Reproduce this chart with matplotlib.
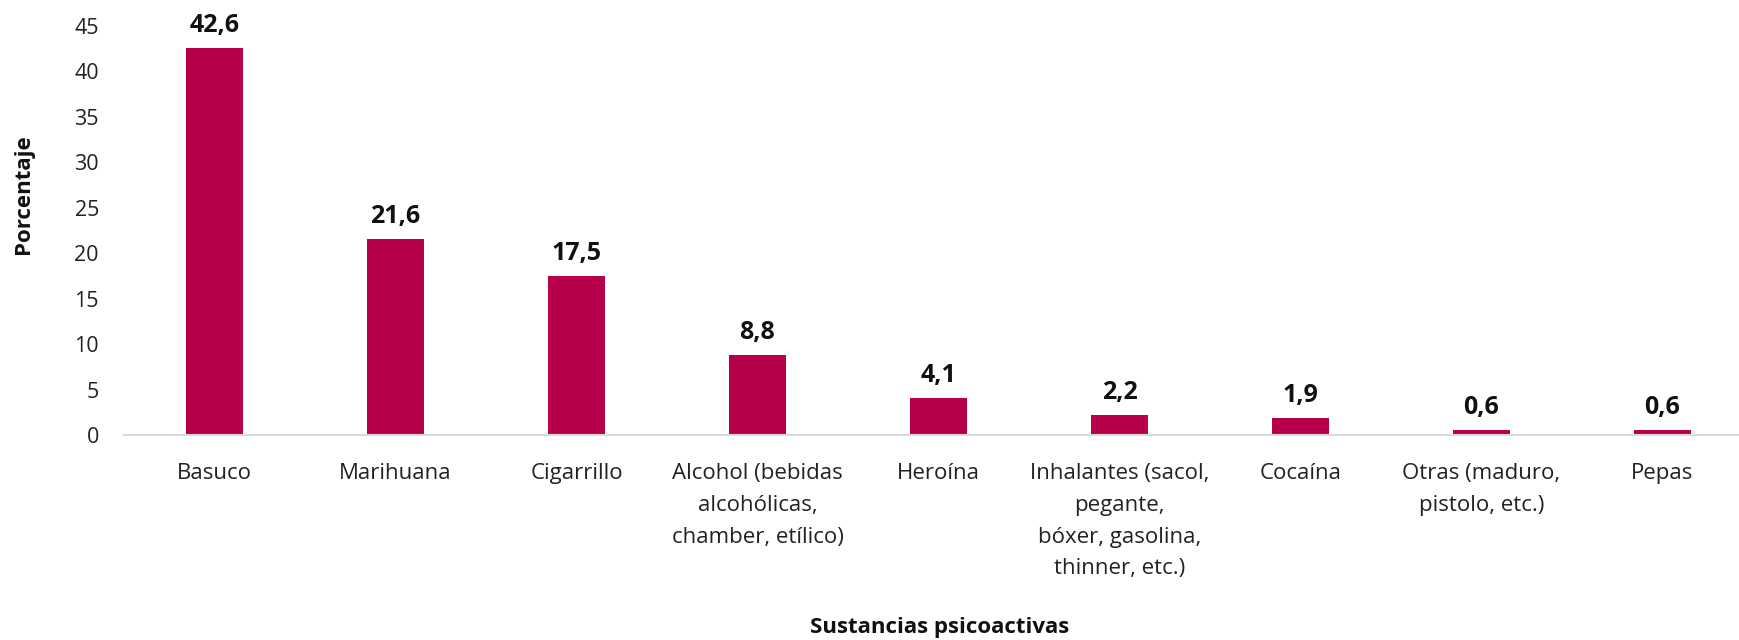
import matplotlib
matplotlib.use("Agg")
import matplotlib.pyplot as plt

categories = [
    "Basuco", "Marihuana", "Cigarrillo",
    "Alcohol (bebidas\nalcohólicas,\nchamber, etílico)",
    "Heroína",
    "Inhalantes (sacol,\npegante,\nbóxer, gasolina,\nthinner, etc.)",
    "Cocaína", "Otras (maduro,\npistolo, etc.)", "Pepas",
]
values = [42.6, 21.6, 17.5, 8.8, 4.1, 2.2, 1.9, 0.6, 0.6]
value_labels = ["42,6", "21,6", "17,5", "8,8", "4,1", "2,2", "1,9", "0,6", "0,6"]
yticks = [0, 5, 10, 15, 20, 25, 30, 35, 40, 45]

plt.rcParams['font.family'] = ['Open Sans', 'DejaVu Sans']

W, H = 1740, 640
fig = plt.figure(figsize=(W / 100, H / 100), dpi=100)
ax = fig.add_axes([124 / W, 1 - 435 / H, (1753 - 124) / W, (435 - 26) / H])

x = list(range(len(categories)))
ax.bar(x, values, width=0.312, color="#B7004B")
ax.set_xlim(-0.5, len(categories) - 0.5)
ax.set_ylim(0, 45)
ax.set_yticks(yticks)
ax.set_yticklabels([str(t) for t in yticks], fontsize=15.5, color="#222222")
ax.set_xticks(x)
ax.set_xticklabels(categories, fontsize=16, color="#222222", linespacing=1.68, va="top")
ax.tick_params(axis="both", length=0)
ax.tick_params(axis="y", pad=18)
ax.tick_params(axis="x", pad=20)

for s in ["top", "right", "left"]:
    ax.spines[s].set_visible(False)
ax.spines["bottom"].set_color("#D9D9D9")
ax.spines["bottom"].set_linewidth(1.5)

for xi, v, lab in zip(x, values, value_labels):
    ax.annotate(lab, (xi, v), xytext=(0, 16), textcoords="offset points",
                ha="center", va="center", fontsize=18, fontweight="bold",
                color="#111111", clip_on=False)

fig.text(940 / W, 1 - 627 / H, "Sustancias psicoactivas", ha="center", va="center",
         fontsize=16, fontweight="bold", color="#111111")
fig.text(24 / W, 1 - 194 / H, "Porcentaje", ha="center", va="center", rotation=90,
         fontsize=16, fontweight="bold", color="#111111")

fig.savefig("out.png", dpi=100, facecolor="white")
